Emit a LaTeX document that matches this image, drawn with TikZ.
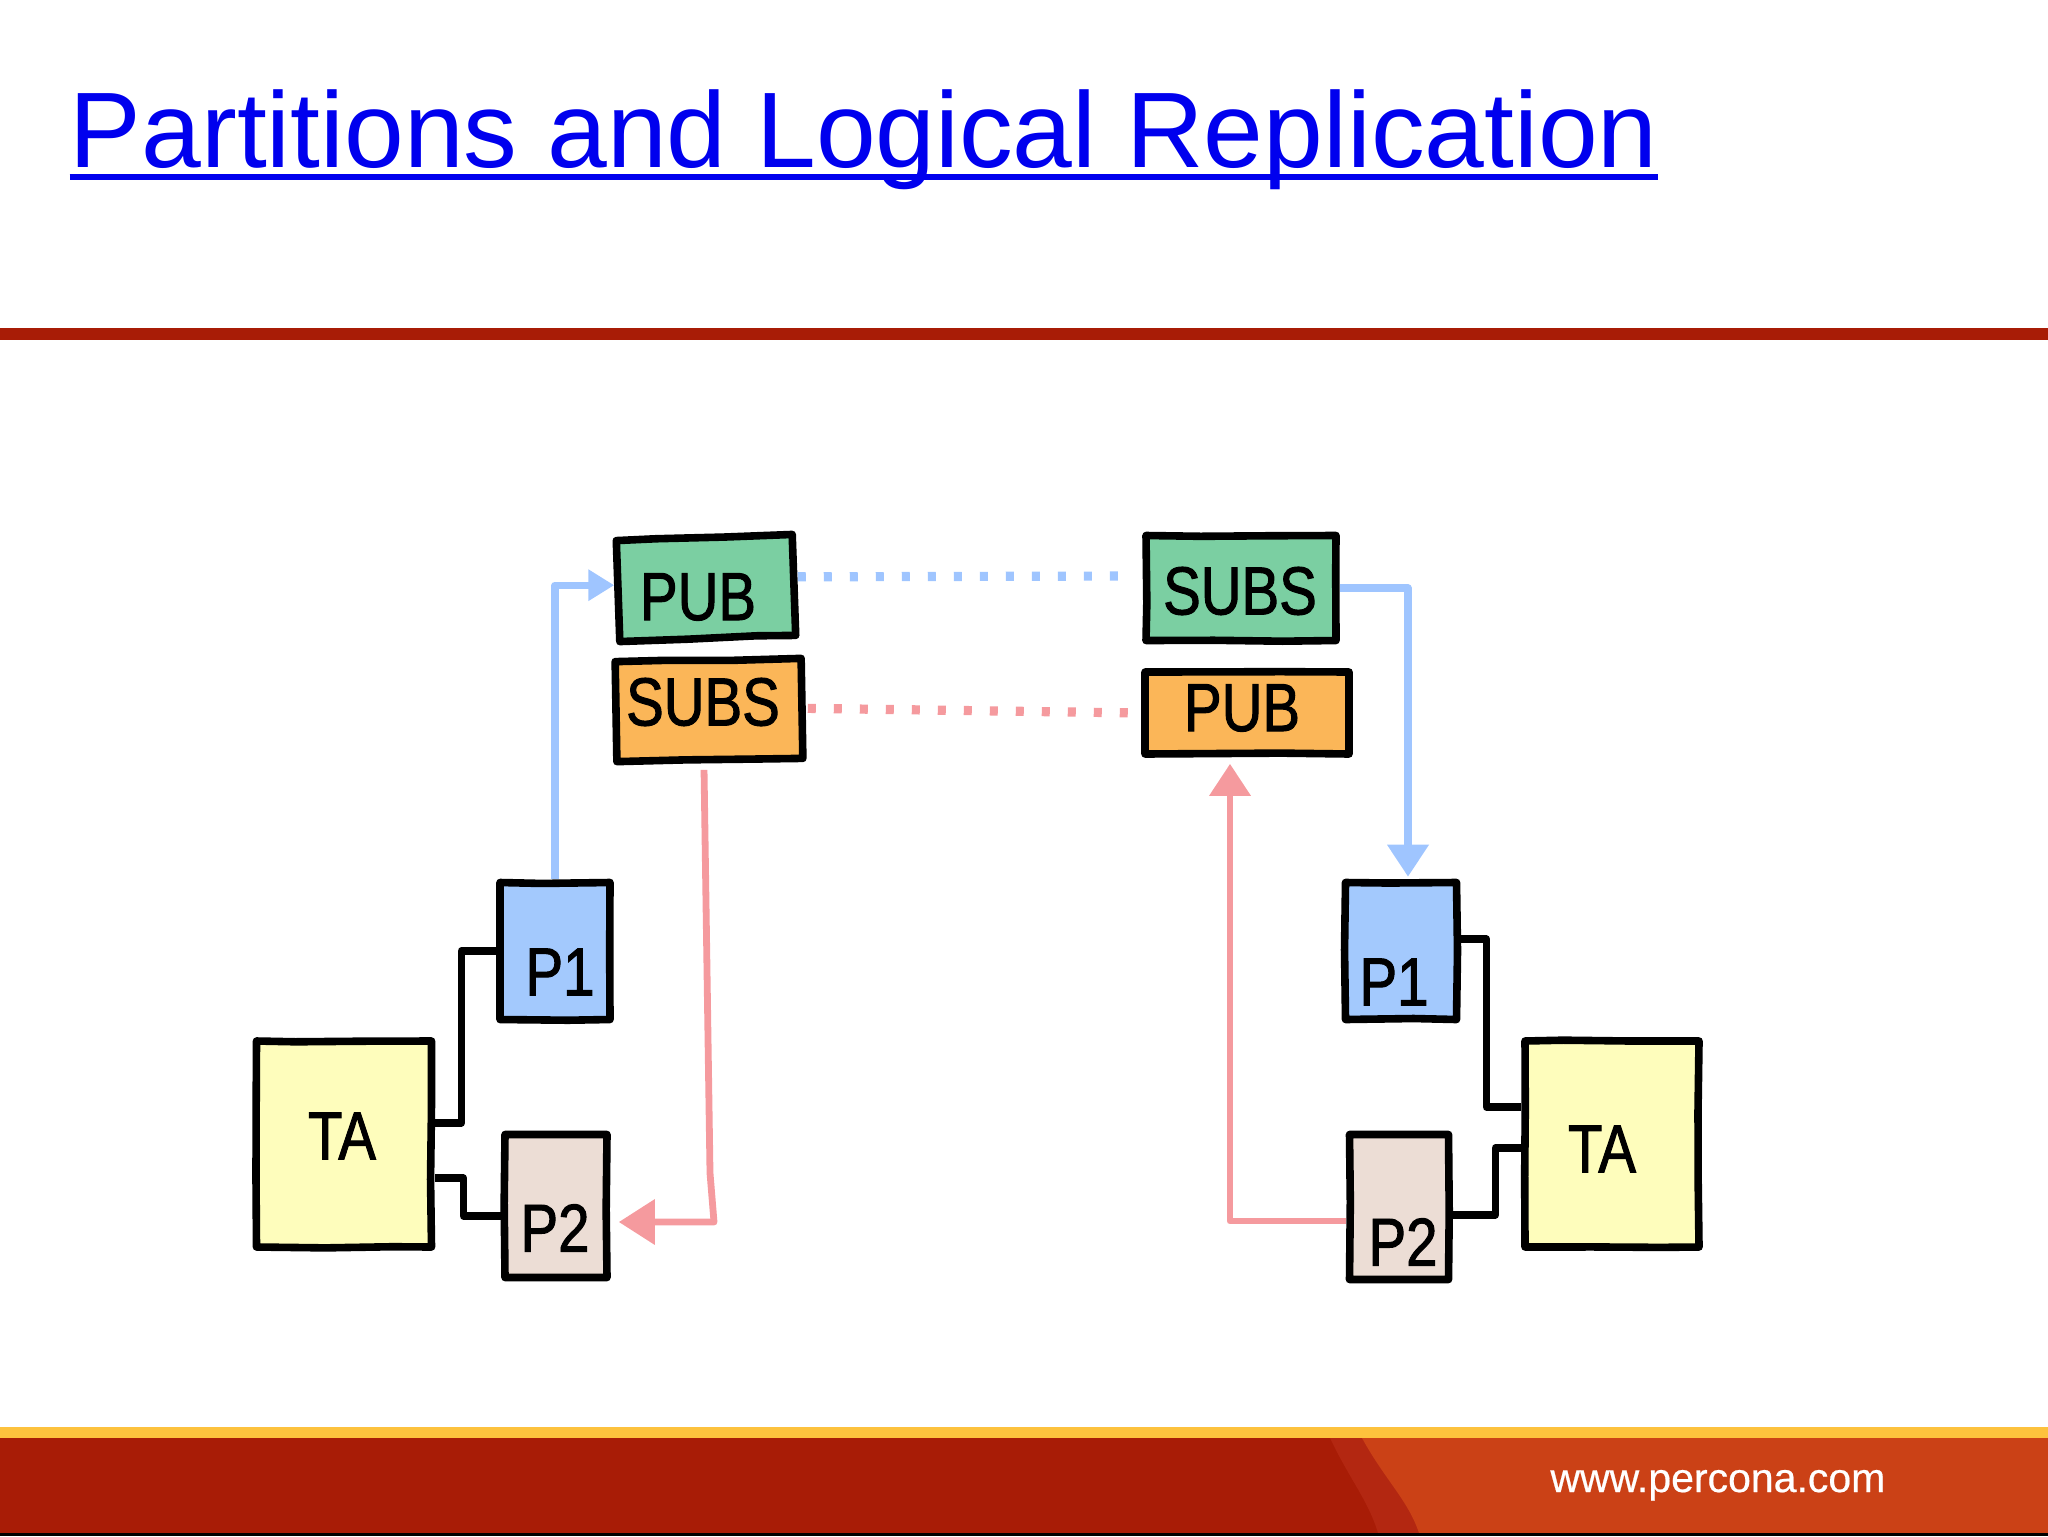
\documentclass[tikz,border=0pt]{standalone}
\usepackage{fontspec}
\setmainfont{Liberation Sans}
\newfontfamily\handfont[FakeStretch=0.83, FakeBold=1.4]{Liberation Sans}
\newfontfamily\sitefont[FakeBold=0.5]{Liberation Sans}
\usetikzlibrary{arrows.meta, decorations.pathmorphing}
\definecolor{titleblue}{HTML}{0000EE}
\definecolor{ruledark}{HTML}{A81C06}
\definecolor{footmid}{HTML}{B32711}
\definecolor{footlight}{HTML}{CB4116}
\definecolor{footgold}{HTML}{FDC23D}
\definecolor{boxgreen}{HTML}{7BCFA2}
\definecolor{boxorange}{HTML}{FBB658}
\definecolor{boxblue}{HTML}{A3C9FD}
\definecolor{boxbeige}{HTML}{ECDDD5}
\definecolor{boxyellow}{HTML}{FEFDBC}
\definecolor{lineblue}{HTML}{9FC5FF}
\definecolor{linered}{HTML}{F59A9E}
\tikzset{box/.style={draw=black, line width=3.8pt, line join=round, inner sep=0pt, decorate, decoration={random steps, segment length=34pt, amplitude=0.5pt}}}
\tikzset{handtext/.style={font=\handfont\fontsize{34}{34}\selectfont, inner sep=0pt}}
\tikzset{wire/.style={draw=black, line width=3.6pt, line join=round}}
\tikzset{blueflow/.style={draw=lineblue, line width=3.6pt, line join=round}}
\tikzset{redflow/.style={draw=linered, line width=3.4pt, line join=round}}
\tikzset{dots/.style={line width=4.6pt, dash pattern=on 4pt off 9pt}}
\pgfmathsetseed{7}

\begin{document}
\begin{tikzpicture}[x=0.5pt, y=-0.5pt]
            \useasboundingbox (0, 0) rectangle (2048, 1536);
            % header
            \node[anchor=base west, inner sep=0pt, text=titleblue, font=\fontsize{53.7}{60}\selectfont] (title) at (69.5, 167) {Partitions and Logical Replication};
            \draw[titleblue, line width=2.6pt] ([yshift=-5pt]title.base west) -- ([yshift=-5pt]title.base east);
            \fill[ruledark] (0, 328) rectangle (2048, 340);
            % footer
            \fill[ruledark] (0, 1438) rectangle (2048, 1533);
            \fill[footmid] (1330, 1438) .. controls (1350, 1480) and (1368, 1500) .. (1378, 1533) -- (2048, 1533) -- (2048, 1438) -- cycle;
            \fill[footlight] (1362, 1438) .. controls (1385, 1480) and (1408, 1500) .. (1419, 1533) -- (2048, 1533) -- (2048, 1438) -- cycle;
            \fill[footgold] (0, 1427) rectangle (2048, 1438);
            \fill[black] (0, 1533) rectangle (2048, 1536);
            \node[anchor=base west, inner sep=0pt, text=white, font=\sitefont\fontsize{20.5}{24}\selectfont] (site) at (1550, 1492) {www.percona.com};
            % boxes
            \node[box, fill=boxgreen, minimum width=88pt, minimum height=50.5pt, rotate=2] (pubL) at (706, 588) {};
            \node[box, fill=boxorange, minimum width=93pt, minimum height=50pt, rotate=1] (subsL) at (709, 710) {};
            \node[box, fill=boxgreen, minimum width=95pt, minimum height=52.5pt] (subsR) at (1241, 588) {};
            \node[box, fill=boxorange, minimum width=102pt, minimum height=41pt] (pubR) at (1247, 713) {};
            \node[box, fill=boxblue, minimum width=55pt, minimum height=68.5pt] (p1L) at (555, 951) {};
            \node[box, fill=boxbeige, minimum width=51pt, minimum height=71.5pt] (p2L) at (556, 1206) {};
            \node[box, fill=boxyellow, minimum width=87.5pt, minimum height=103pt] (taL) at (344, 1144) {};
            \node[box, fill=boxblue, minimum width=55.5pt, minimum height=68.5pt] (p1R) at (1401, 951) {};
            \node[box, fill=boxbeige, minimum width=49.5pt, minimum height=72.5pt] (p2R) at (1399, 1207) {};
            \node[box, fill=boxyellow, minimum width=87pt, minimum height=103pt] (taR) at (1612, 1144) {};
            % hand lettering
            \foreach \nm/\cx/\cy/\txt in {pubLtxt/698/597/PUB, subsLtxt/703/702/SUBS, subsRtxt/1240/591/SUBS, pubRtxt/1242/708/PUB, p1Ltxt/560/972/P1, p2Ltxt/555/1228/P2, taLtxt/342/1136/TA, p1Rtxt/1394/982/P1, p2Rtxt/1403/1242/P2, taRtxt/1602/1149/TA} {
                \node[handtext] (\nm) at (\cx, \cy) {\txt};
            }
            % table to partition
            \draw[wire] ([yshift=10.5pt]taL.east) -- ++(26, 0) |- (p1L.west);
            \draw[wire] ([yshift=-17pt]taL.east) -- ++(28, 0) |- ([yshift=-5pt]p2L.west);
            \draw[wire] ([yshift=6pt]p1R.east) -- ++(26, 0) |- ([yshift=18.5pt]taR.west);
            \draw[wire] ([yshift=-4pt]p2R.east) -- ++(43, 0) |- ([yshift=-2pt]taR.west);
            % flows
            \draw[blueflow, -{Triangle[length=13pt, width=15pt]}] (p1L.north) |- ([yshift=3pt]pubL.west);
            \draw[blueflow, -{Triangle[length=16pt, width=20pt]}, shorten >=1pt] (subsR.east) -| ([xshift=3.5pt]p1R.north);
            \coordinate (redmid) at (710, 1173);
            \coordinate (redbend) at (714, 1222);
            \draw[redflow, -{Triangle[length=18pt, width=22pt]}, shorten <=3pt, shorten >=4pt] ([xshift=-3pt]subsL.south) -- (redmid) -- (redbend) -- (p2L.east |- redbend);
            \draw[redflow, -{Triangle[length=16pt, width=20pt]}, shorten >=3pt] ([yshift=-7pt]p2R.west) -| ([xshift=-8.5pt]pubR.south);
            \draw[lineblue, dots, shorten >=5pt] ([yshift=4pt]pubL.east) -- ([yshift=6pt]subsR.west);
            \draw[linered, dots, shorten <=1pt, shorten >=3pt] (subsL.east) -- (pubR.west);
        \end{tikzpicture}
\end{document}
